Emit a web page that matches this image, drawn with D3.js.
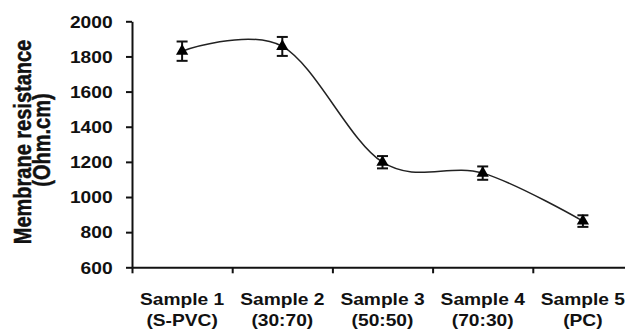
<!DOCTYPE html>
<html>
<head>
<meta charset="utf-8">
<script src="https://cdn.jsdelivr.net/npm/d3@7"></script>
<style>
  body { margin: 0; background: #fff; }
  text { font-family: "Liberation Sans", Arial, sans-serif; font-weight: bold; fill: #111; }
</style>
</head>
<body>
<div id="chart"></div>
<script>
// data
const samples = ["Sample 1", "Sample 2", "Sample 3", "Sample 4", "Sample 5"];
const compositions = ["(S-PVC)", "(30:70)", "(50:50)", "(70:30)", "(PC)"];
const resistance = [1830, 1857, 1198, 1136, 863];
const errors = [55, 54, 35, 38, 33];
const yTicks = [600, 800, 1000, 1200, 1400, 1600, 1800, 2000];

const W = 625, H = 331;
const SX = 1.2; // text in the picture is stretched sideways

const svg = d3.select("#chart").append("svg")
  .attr("width", W)
  .attr("height", H);

const x = d3.scaleBand()
  .domain(samples)
  .range([132, 633]);

const y = d3.scaleLinear()
  .domain([600, 2000])
  .range([267.3, 21.3]);

// y axis
const gy = svg.append("g")
  .attr("transform", "translate(132,0)")
  .call(d3.axisLeft(y).tickValues(yTicks).tickFormat(d3.format("d")).tickSize(6).tickSizeOuter(0));
gy.select(".domain").attr("stroke-width", 2).attr("stroke", "#111");
gy.selectAll(".tick line").attr("stroke-width", 2).attr("stroke", "#111");
gy.selectAll(".tick text")
  .attr("x", -16.2)
  .attr("dy", "0.36em")
  .attr("transform", `scale(${SX},1)`)
  .attr("font-size", null)
  .attr("font-family", null)
  .style("font-size", "16px")
  .style("font-weight", "bold")
  .style("fill", "#111");

// x axis: ticks sit on band edges
const xEdge = d3.scaleLinear().domain([0, samples.length]).range(x.range());
const gx = svg.append("g")
  .attr("transform", `translate(0,${y(600)})`)
  .call(d3.axisBottom(xEdge).tickValues([0, 1, 2, 3, 4]).tickFormat("").tickSize(6).tickSizeOuter(0));
gx.select(".domain").attr("stroke-width", 2).attr("stroke", "#111");
gx.selectAll(".tick line").attr("stroke-width", 2).attr("stroke", "#111");

// category labels (two lines)
const lab = svg.selectAll(".xlab")
  .data(samples)
  .enter()
  .append("g")
  .attr("class", "xlab")
  .attr("transform", d => `translate(${x(d) + x.bandwidth() / 2},0) scale(${SX},1)`);
lab.append("text")
  .attr("y", 305)
  .attr("text-anchor", "middle")
  .style("font-size", "16px")
  .text(d => d);
lab.append("text")
  .attr("y", 326)
  .attr("text-anchor", "middle")
  .style("font-size", "16px")
  .text((d, i) => compositions[i]);

// y axis title
const yt = svg.append("g")
  .style("stroke", "#111")
  .style("stroke-width", 0.4);
yt.append("text")
  .attr("transform", `translate(31,142) rotate(-90) scale(1,${SX})`)
  .attr("text-anchor", "middle")
  .style("font-size", "20px")
  .style("font-weight", "bold")
  .text("Membrane resistance");
yt.append("text")
  .attr("transform", `translate(50,140) rotate(-90) scale(1,${SX})`)
  .attr("text-anchor", "middle")
  .style("font-size", "20px")
  .style("font-weight", "bold")
  .text("(Ohm.cm)");

// data
const pts = samples.map((s, i) => ({ s, v: resistance[i], e: errors[i] }));
const cx = d => x(d.s) + x.bandwidth() / 2;

// smoothed line
const line = d3.line()
  .x(cx)
  .y(d => y(d.v))
  .curve(d3.curveCardinal.tension(0));
svg.append("path")
  .datum(pts)
  .attr("d", line)
  .attr("fill", "none")
  .attr("stroke", "#222")
  .attr("stroke-width", 1.5);

// error bars
const eb = svg.selectAll(".err")
  .data(pts)
  .enter()
  .append("g")
  .attr("class", "err")
  .attr("stroke", "#111")
  .attr("stroke-width", 2);
eb.append("line")
  .attr("x1", cx).attr("x2", cx)
  .attr("y1", d => y(d.v + d.e))
  .attr("y2", d => y(d.v - d.e));
eb.append("line")
  .attr("x1", d => cx(d) - 5.5).attr("x2", d => cx(d) + 5.5)
  .attr("y1", d => y(d.v + d.e)).attr("y2", d => y(d.v + d.e));
eb.append("line")
  .attr("x1", d => cx(d) - 5.5).attr("x2", d => cx(d) + 5.5)
  .attr("y1", d => y(d.v - d.e)).attr("y2", d => y(d.v - d.e));

// triangle markers
svg.selectAll(".mark")
  .data(pts)
  .enter()
  .append("path")
  .attr("class", "mark")
  .attr("d", d3.symbol().type(d3.symbolTriangle).size(65))
  .attr("transform", d => `translate(${cx(d)},${y(d.v)})`)
  .attr("fill", "#000");
</script>
</body>
</html>
